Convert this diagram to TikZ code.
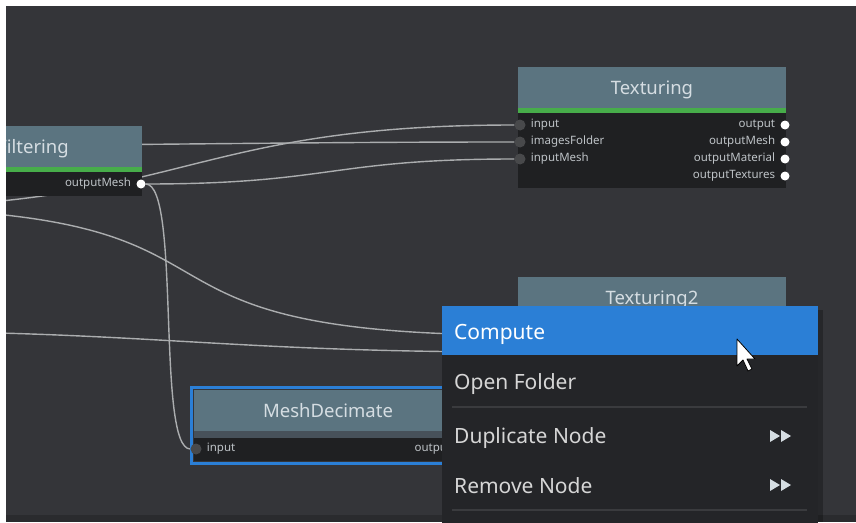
\documentclass[tikz,border=0pt]{standalone}
\usepackage{fontspec}
\setmainfont{Noto Sans}
\usetikzlibrary{positioning}

\definecolor{canvas}{HTML}{343539}
\definecolor{panel}{HTML}{2A2B2E}
\definecolor{headcol}{HTML}{5B7480}
\definecolor{okgreen}{HTML}{47AD4A}
\definecolor{greybar}{HTML}{47515A}
\definecolor{bodycol}{HTML}{1F2022}
\definecolor{titlecol}{HTML}{D5DDE2}
\definecolor{portcol}{HTML}{BEC3C7}
\definecolor{inportcol}{HTML}{48494B}
\definecolor{wirecol}{HTML}{ABADAF}
\definecolor{menucol}{HTML}{242528}
\definecolor{selblue}{HTML}{2B7FD6}
\definecolor{sepcol}{HTML}{3A3B3E}
\definecolor{menutext}{HTML}{D6D6D6}

\pgfdeclarelayer{bg}
\pgfdeclarelayer{wires}
\pgfsetlayers{bg,wires,main}

\tikzset{
  head/.style={fill=headcol, text=titlecol, minimum height=41, inner sep=0pt, outer sep=0pt,
    anchor=north west, text depth=0pt, font=\fontsize{18.5}{20}\selectfont},
  statusbar/.style={fill=okgreen, minimum height=5, inner sep=0pt, outer sep=0pt},
  nodebody/.style={fill=bodycol, inner sep=0pt, outer sep=0pt},
  portlbl/.style={text=portcol, inner ysep=0pt, inner xsep=5pt, font=\fontsize{11.5}{14}\selectfont},
  inport/.style={circle, fill=inportcol, minimum size=11, inner sep=0pt},
  outport/.style={circle, fill=white, minimum size=9, inner sep=0pt},
  wire/.style={draw=wirecol, line width=1.4},
  menuitem/.style={anchor=base west, text=menutext, inner sep=0pt, font=\fontsize{21}{24}\selectfont},
  sepline/.style={draw=sepcol, line width=1.2},
  submenu/.style={fill=titlecol}
}

\begin{document}
\begin{tikzpicture}[x=1pt, y=-1pt]
\useasboundingbox (0,0) rectangle (856,522);

\begin{pgfonlayer}{bg}
  \fill[canvas] (0,0) rectangle (856,522);
  \fill[panel] (0,515) rectangle (856,522);
\end{pgfonlayer}

% Filtering (cut at the left)
\node[head, minimum width=218] (filHead) at (-76,126) {Filtering};
\node[statusbar, minimum width=218, below=0pt of filHead] (filBar) {};
\node[nodebody, minimum width=218, minimum height=24, below=0pt of filBar] (filBody) {};
\node[outport, label={[portlbl]left:outputMesh}] (fil-outputMesh) at (141,184) {};

% Texturing
\node[head, minimum width=268] (texHead) at (518,67) {Texturing};
\node[statusbar, minimum width=268, below=0pt of texHead] (texBar) {};
\node[nodebody, minimum width=268, minimum height=75, below=0pt of texBar] (texBody) {};
\foreach \p/\y in {input/125, imagesFolder/142, inputMesh/159}
  \node[inport, label={[portlbl]right:\p}] (tex-\p) at (520,\y) {};
\foreach \p/\y in {output/125, outputMesh/142, outputMaterial/159, outputTextures/176}
  \node[outport, label={[portlbl]left:\p}] (tex-\p) at (785,\y) {};

% Texturing2 (behind the menu)
\node[head, minimum width=268] (tx2Head) at (518,277) {Texturing2};
\coordinate (tx2-input) at (520,335);
\coordinate (tx2-imagesFolder) at (520,352);

% MeshDecimate, selected
\node[head, minimum width=268] (mdHead) at (194,390) {MeshDecimate};
\node[statusbar, fill=greybar, minimum width=268, minimum height=7, below=0pt of mdHead] (mdBar) {};
\node[nodebody, minimum width=268, minimum height=23, below=0pt of mdBar] (mdBody) {};
\draw[selblue, line width=3] ([shift={(-2.5,-2.5)}]mdHead.north west) rectangle ([shift={(2.5,2.5)}]mdBody.south east);
\node[inport, label={[portlbl]right:input}] (md-input) at (196,449) {};
\node[outport, label={[portlbl]left:output}] (md-output) at (461,449) {};

% sources outside the view
\coordinate (offA) at (-150,146);
\coordinate (offB) at (-150,208);
\coordinate (offD) at (-150,331);

\begin{pgfonlayer}{wires}
  \draw[wire] (offA) .. controls +(250,0) and +(-250,0) .. (tex-imagesFolder);
  \draw[wire] (offB) .. controls +(335,0) and +(-335,0) .. (tex-input);
  \draw[wire] (fil-outputMesh) .. controls +(190,0) and +(-190,0) .. (tex-inputMesh);
  \draw[wire] (fil-outputMesh) .. controls +(40,0) and +(-40,0) .. (md-input);
  \draw[wire] (offB) .. controls +(450,0) and +(-450,0) .. (tx2-input);
  \draw[wire] (offD) .. controls +(300,0) and +(-300,0) .. (tx2-imagesFolder);
\end{pgfonlayer}

% context menu
\fill[black, opacity=0.25] (818,310) rectangle (823,522);
\node[fill=menucol, minimum width=376, minimum height=230, inner sep=0pt, anchor=north west] (menu) at (442,306) {};
\node[fill=selblue, minimum width=376, minimum height=49, inner sep=0pt, anchor=north west] (menuHl) at (442,306) {};
\node[menuitem, text=white] (mCompute) at (454,339) {Compute};
\node[menuitem] (mOpen) at (454,389) {Open Folder};
\draw[sepline] (452,407) -- (807,407);
\node[menuitem] (mDuplicate) at (454,443) {Duplicate Node};
\node[menuitem] (mRemove) at (454,493) {Remove Node};
\draw[sepline] (452,510) -- (807,510);
\foreach \y in {436,485} {
  \fill[submenu] (770,\y-6) -- (770,\y+6) -- (780,\y) -- cycle;
  \fill[submenu] (781,\y-6) -- (781,\y+6) -- (791,\y) -- cycle;
}

% mouse pointer
\filldraw[fill=white, draw=black, line width=0.8, line join=round]
  (737,339) -- ++(0,27) -- ++(6,-6) -- ++(5,11) -- ++(4,-2) -- ++(-5,-10) -- ++(8,0) -- cycle;

% white margins
\fill[white] (0,0) rectangle (6,522);
\fill[white] (0,0) rectangle (856,6);
\end{tikzpicture}
\end{document}
